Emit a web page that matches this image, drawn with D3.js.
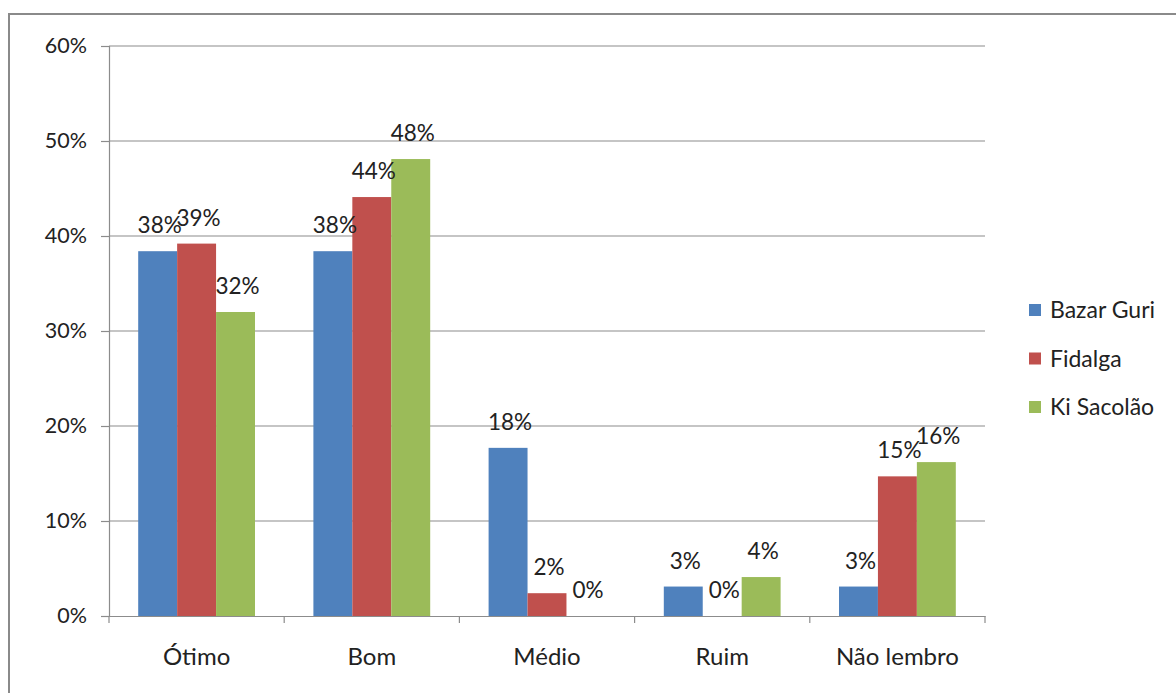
<!DOCTYPE html>
<html>
<head>
<meta charset="utf-8">
<script src="https://cdn.jsdelivr.net/npm/d3@7"></script>
<style>
  body { margin: 0; background: #fff; }
  svg { display: block; font-family: Lato, "Open Sans", sans-serif; }
</style>
</head>
<body>
<svg id="chart" width="1176" height="693"></svg>
<script>
const categories = ["Ótimo", "Bom", "Médio", "Ruim", "Não lembro"];
const seriesNames = ["Bazar Guri", "Fidalga", "Ki Sacolão"];
const bazarGuri = [0.384, 0.384, 0.177, 0.031, 0.031];
const fidalga = [0.392, 0.441, 0.024, 0, 0.147];
const kiSacolao = [0.32, 0.481, 0, 0.041, 0.162];
const colors = ["#4F81BD", "#C0504D", "#9BBB59"];
const yTicks = [0, 0.1, 0.2, 0.3, 0.4, 0.5, 0.6];

const series = [bazarGuri, fidalga, kiSacolao];

const margin = { top: 46, left: 109, right: 191, bottom: 77 };
const width = 1176 - margin.left - margin.right;
const height = 693 - margin.top - margin.bottom;

const svg = d3.select("#chart");

// outer frame
svg.append("rect")
    .attr("x", 9).attr("y", 14)
    .attr("width", 1180).attr("height", 700)
    .attr("fill", "none")
    .attr("stroke", "#8a8a8a")
    .attr("stroke-width", 2);

const g = svg.append("g").attr("transform", `translate(${margin.left},${margin.top})`);

const x0 = d3.scaleBand().domain(categories).range([0, width]).paddingInner(0).paddingOuter(0);
const x1 = d3.scaleBand().domain(seriesNames).range([0, x0.bandwidth()]).paddingInner(0).paddingOuter(0.75);
const y = d3.scaleLinear().domain([0, 0.6]).range([height, 0]);

// gridlines
g.append("g").selectAll("line")
    .data(yTicks.slice(1))
    .join("line")
    .attr("x1", 0).attr("x2", width)
    .attr("y1", d => y(d)).attr("y2", d => y(d))
    .attr("stroke", "#8c8c8c").attr("stroke-width", 1.2);

// y axis
const yAxis = g.append("g")
    .call(d3.axisLeft(y).tickValues(yTicks).tickFormat(d3.format(".0%")).tickSize(8).tickPadding(14));
yAxis.select(".domain").attr("stroke", "#8c8c8c").attr("stroke-width", 1.2);
yAxis.selectAll(".tick line").attr("stroke", "#8c8c8c").attr("stroke-width", 1.2);
yAxis.selectAll("text").attr("font-size", 21.5).attr("fill", "#222").attr("font-family", "Lato, 'Open Sans', sans-serif");

// bars
const groups = g.append("g").selectAll("g")
    .data(categories)
    .join("g")
    .attr("transform", d => `translate(${x0(d)},0)`);

groups.selectAll("rect")
    .data((c, i) => seriesNames.map((s, j) => ({ s, v: series[j][i], j })))
    .join("rect")
    .attr("x", d => x1(d.s))
    .attr("y", d => y(d.v))
    .attr("width", x1.bandwidth())
    .attr("height", d => height - y(d.v))
    .attr("fill", d => colors[d.j]);

groups.selectAll("text")
    .data((c, i) => seriesNames.map((s, j) => ({ s, v: series[j][i], j })))
    .join("text")
    .attr("x", d => x1(d.s) + x1.bandwidth() / 2 + 2)
    .attr("y", d => y(d.v) - 18)
    .attr("text-anchor", "middle")
    .attr("font-size", 22.5)
    .attr("fill", "#222")
    .text(d => d3.format(".0%")(d.v));

// x axis
const xAxis = g.append("g")
    .attr("transform", `translate(0,${height})`)
    .call(d3.axisBottom(x0).tickSize(0).tickPadding(32));
xAxis.select(".domain").attr("stroke", "#8c8c8c").attr("stroke-width", 1.2);
xAxis.selectAll("text").attr("font-size", 24).attr("fill", "#222").attr("font-family", "Lato, 'Open Sans', sans-serif");

g.append("g").selectAll("line")
    .data(d3.range(categories.length + 1))
    .join("line")
    .attr("x1", i => i * x0.bandwidth()).attr("x2", i => i * x0.bandwidth())
    .attr("y1", height).attr("y2", height + 7)
    .attr("stroke", "#8c8c8c").attr("stroke-width", 1.2);

// legend
const legend = svg.append("g").attr("transform", "translate(1029,310)");
const items = legend.selectAll("g")
    .data(seriesNames)
    .join("g")
    .attr("transform", (d, i) => `translate(0,${i * 48.5})`);
items.append("rect")
    .attr("x", 0).attr("y", -6)
    .attr("width", 12).attr("height", 12)
    .attr("fill", (d, i) => colors[i]);
items.append("text")
    .attr("x", 21).attr("y", 0)
    .attr("dy", "0.35em")
    .attr("font-size", 23)
    .attr("fill", "#222")
    .text(d => d);
</script>
</body>
</html>
